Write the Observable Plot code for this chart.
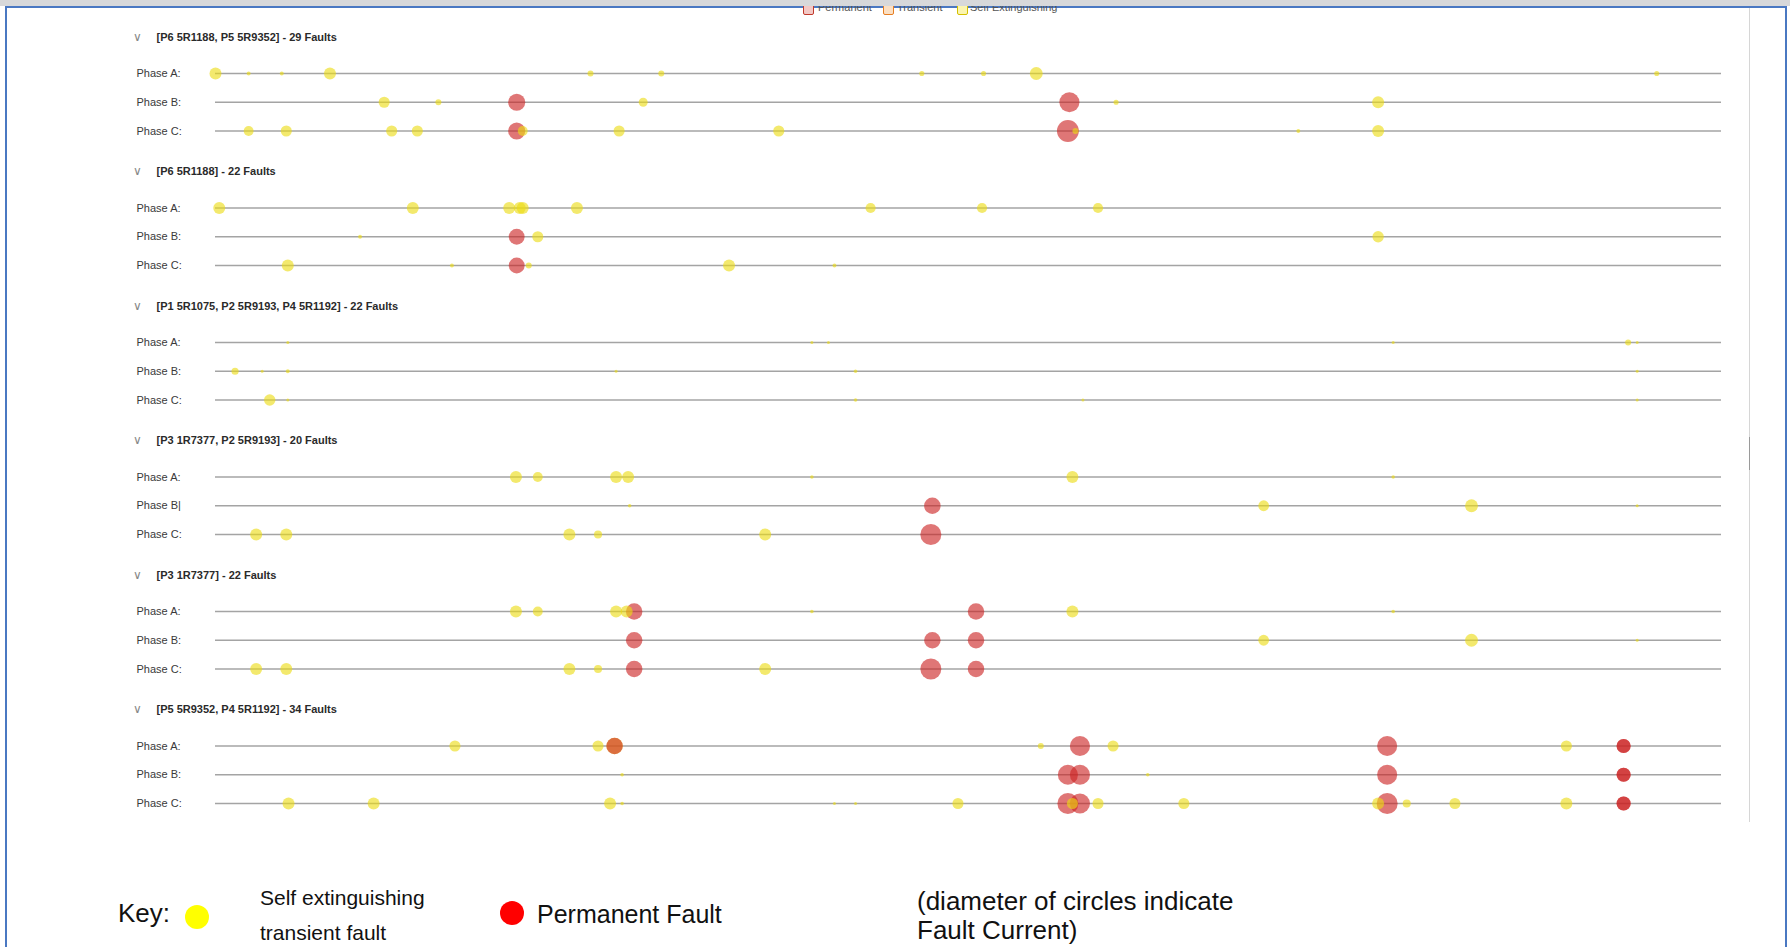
<!DOCTYPE html>
<html>
<head>
<meta charset="utf-8">
<script src="https://cdn.jsdelivr.net/npm/d3@7"></script>
<script src="https://cdn.jsdelivr.net/npm/@observablehq/plot@0.6"></script>
<style>
  html, body { margin: 0; padding: 0; background: #fff; }
  #page { position: relative; width: 1790px; height: 947px; overflow: hidden; background: #fff;
          font-family: "Liberation Sans", Arial, sans-serif; }
  .abs { position: absolute; }
  .tl { position: absolute; font-size: 11px; color: #555; line-height: 11px; white-space: nowrap; z-index: 2; }
  .cb { position: absolute; width: 9px; height: 9px; border: 1px solid; border-radius: 2px; z-index: 2; }
  .key { position: absolute; color: #111; white-space: nowrap; }
  .dotk { position: absolute; border-radius: 50%; }
</style>
</head>
<body>
<div id="page">
  <div class="abs" style="left:5px;top:6px;width:1782px;height:2px;background:#4a78c2;z-index:1"></div>
  <!-- partially hidden filter legend at the very top -->
  <div class="cb" style="left:803px;top:4px;border-color:#c0392b;background:#f3c9c6"></div>
  <div class="tl" style="left:818px;top:2px">Permanent</div>
  <div class="cb" style="left:883px;top:4px;border-color:#e67e22;background:#fbe0c4"></div>
  <div class="tl" style="left:897px;top:2px">Transient</div>
  <div class="cb" style="left:957px;top:4px;border-color:#d4c000;background:#fbf5b0"></div>
  <div class="tl" style="left:970px;top:2px">Self Extinguishing</div>
  <div class="abs" style="left:0;top:0;width:1790px;height:6px;background:#d7d8da;z-index:3"></div>

  <div class="abs" style="left:5px;top:6px;width:2px;height:941px;background:#4a78c2"></div>
  <div class="abs" style="left:1785px;top:6px;width:2px;height:941px;background:#4a78c2"></div>
  <div class="abs" style="left:1749px;top:8px;width:1px;height:814px;background:#d6d6d6"></div>
  <div class="abs" style="left:1749px;top:437px;width:1px;height:33px;background:#9a9a9a"></div>

  <div id="chart" class="abs" style="left:0;top:0"></div>

  <!-- key -->
  <div class="key" style="left:118px;top:898px;font-size:26px;line-height:30px">Key:</div>
  <div class="dotk" style="left:185px;top:905px;width:24px;height:24px;background:#ffff00"></div>
  <div class="key" style="left:260px;top:885px;font-size:21px;line-height:26px">Self extinguishing</div>
  <div class="key" style="left:260px;top:920px;font-size:21px;line-height:26px">transient fault</div>
  <div class="dotk" style="left:500px;top:901px;width:24px;height:24px;background:#ff0000"></div>
  <div class="key" style="left:537px;top:899px;font-size:25px;line-height:30px">Permanent Fault</div>
  <div class="key" style="left:917px;top:886px;font-size:26px;line-height:30px">(diameter of circles indicate</div>
  <div class="key" style="left:917px;top:915px;font-size:26px;line-height:30px">Fault Current)</div>
</div>

<script>
// ---------------- data ----------------
const groupNames = [
  "[P6 5R1188, P5 5R9352]",
  "[P6 5R1188]",
  "[P1 5R1075, P2 5R9193, P4 5R1192]",
  "[P3 1R7377, P2 5R9193]",
  "[P3 1R7377]",
  "[P5 5R9352, P4 5R1192]"
];
const faultCounts = [29, 22, 22, 20, 22, 34];
const phases = ["Phase A:", "Phase B:", "Phase C:"];
const kinds = ["Self extinguishing", "Permanent"];

// each fault: [phase, position along the monitored period (%), fault current (kA), kind S=self extinguishing / P=permanent]
const faults1 = [
  ["A", 0.0, 4.0, "S"], ["A", 2.2, 1.3, "S"], ["A", 4.4, 1.3, "S"], ["A", 7.6, 4.0, "S"],
  ["A", 24.9, 2.0, "S"], ["A", 29.6, 2.0, "S"], ["A", 46.9, 1.7, "S"], ["A", 51.0, 1.7, "S"],
  ["A", 54.5, 4.3, "S"], ["A", 95.7, 1.7, "S"],
  ["B", 11.2, 3.7, "S"], ["B", 14.8, 2.0, "S"], ["B", 20.0, 5.7, "P"], ["B", 28.4, 3.0, "S"],
  ["B", 56.7, 6.7, "P"], ["B", 59.8, 1.7, "S"], ["B", 77.2, 4.0, "S"],
  ["C", 2.2, 3.3, "S"], ["C", 4.7, 3.7, "S"], ["C", 11.7, 3.7, "S"], ["C", 13.4, 3.7, "S"],
  ["C", 20.0, 5.7, "P"], ["C", 20.4, 3.3, "S"], ["C", 26.8, 3.7, "S"], ["C", 37.4, 3.7, "S"],
  ["C", 56.6, 7.3, "P"], ["C", 57.1, 2.0, "S"], ["C", 71.9, 1.3, "S"], ["C", 77.2, 4.0, "S"]
];
const faults2 = [
  ["A", 0.25, 4.0, "S"], ["A", 13.1, 4.0, "S"], ["A", 19.5, 4.0, "S"], ["A", 20.2, 4.0, "S"],
  ["A", 20.4, 4.0, "S"], ["A", 24.0, 4.0, "S"], ["A", 43.5, 3.4, "S"], ["A", 50.9, 3.4, "S"],
  ["A", 58.6, 3.4, "S"],
  ["B", 9.6, 1.3, "S"], ["B", 20.0, 5.3, "P"], ["B", 21.4, 3.7, "S"], ["B", 77.2, 3.8, "S"],
  ["C", 4.8, 4.0, "S"], ["C", 15.7, 1.3, "S"], ["C", 20.0, 5.3, "P"], ["C", 20.8, 2.0, "S"],
  ["C", 34.1, 4.0, "S"], ["C", 41.1, 1.3, "S"]
];
const faults3 = [
  ["A", 4.8, 1.0, "S"], ["A", 39.6, 1.0, "S"], ["A", 40.7, 1.0, "S"], ["A", 78.2, 1.0, "S"],
  ["A", 93.8, 2.0, "S"], ["A", 94.4, 1.0, "S"],
  ["B", 1.3, 2.4, "S"], ["B", 3.1, 1.0, "S"], ["B", 4.8, 1.3, "S"], ["B", 26.6, 1.0, "S"],
  ["B", 42.5, 1.2, "S"], ["B", 94.4, 1.0, "S"],
  ["C", 3.6, 3.8, "S"], ["C", 4.8, 1.0, "S"], ["C", 42.5, 1.2, "S"], ["C", 57.6, 1.0, "S"],
  ["C", 94.4, 1.0, "S"]
];
const faults4 = [
  ["A", 19.95, 4.0, "S"], ["A", 21.4, 3.3, "S"], ["A", 26.6, 4.0, "S"], ["A", 27.4, 4.0, "S"],
  ["A", 39.6, 1.2, "S"], ["A", 56.9, 4.0, "S"], ["A", 78.2, 1.2, "S"],
  ["B", 27.5, 1.2, "S"], ["B", 47.6, 5.5, "P"], ["B", 69.6, 3.6, "S"], ["B", 83.4, 4.3, "S"],
  ["B", 94.4, 1.0, "S"],
  ["C", 2.7, 4.0, "S"], ["C", 4.7, 4.0, "S"], ["C", 23.5, 4.0, "S"], ["C", 25.4, 2.7, "S"],
  ["C", 36.5, 4.0, "S"], ["C", 47.5, 7.0, "P"]
];
const faults5 = [
  ["A", 19.95, 4.0, "S"], ["A", 21.4, 3.3, "S"], ["A", 26.6, 4.0, "S"], ["A", 27.3, 4.0, "S"],
  ["A", 27.8, 5.5, "P"], ["A", 39.6, 1.2, "S"], ["A", 50.5, 5.5, "P"], ["A", 56.9, 4.0, "S"],
  ["A", 78.2, 1.2, "S"],
  ["B", 27.8, 5.5, "P"], ["B", 47.6, 5.5, "P"], ["B", 50.5, 5.5, "P"], ["B", 69.6, 3.6, "S"],
  ["B", 83.4, 4.3, "S"], ["B", 94.4, 1.0, "S"],
  ["C", 2.7, 4.0, "S"], ["C", 4.7, 4.0, "S"], ["C", 23.5, 4.0, "S"], ["C", 25.4, 2.7, "S"],
  ["C", 27.8, 5.5, "P"], ["C", 36.5, 4.0, "S"], ["C", 47.5, 7.0, "P"], ["C", 50.5, 5.5, "P"]
];
const faults6 = [
  ["A", 15.9, 3.7, "S"], ["A", 25.4, 3.7, "S"], ["A", 26.5, 5.5, "S"], ["A", 26.5, 5.5, "P"],
  ["A", 54.8, 2.0, "S"], ["A", 57.4, 6.7, "P"], ["A", 59.6, 3.7, "S"], ["A", 77.8, 6.7, "P"],
  ["A", 89.7, 3.7, "S"], ["A", 93.5, 4.7, "P"], ["A", 93.5, 4.7, "P"],
  ["B", 27.0, 1.2, "S"], ["B", 56.6, 6.7, "P"], ["B", 57.4, 6.7, "P"], ["B", 61.9, 1.2, "S"],
  ["B", 77.8, 6.7, "P"], ["B", 93.5, 4.7, "P"], ["B", 93.5, 4.7, "P"],
  ["C", 4.85, 4.0, "S"], ["C", 10.5, 4.0, "S"], ["C", 26.2, 4.0, "S"], ["C", 27.0, 1.2, "S"],
  ["C", 41.1, 1.0, "S"], ["C", 42.5, 1.0, "S"], ["C", 49.3, 3.7, "S"], ["C", 56.6, 7.0, "P"],
  ["C", 56.9, 3.7, "S"], ["C", 57.4, 6.7, "P"], ["C", 58.6, 3.7, "S"], ["C", 64.3, 3.7, "S"],
  ["C", 77.2, 4.0, "S"], ["C", 77.8, 7.0, "P"], ["C", 79.1, 2.7, "S"], ["C", 82.3, 3.7, "S"],
  ["C", 89.7, 4.0, "S"], ["C", 93.5, 4.7, "P"], ["C", 93.5, 4.7, "P"]
];
const faultsByGroup = [faults1, faults2, faults3, faults4, faults5, faults6];

// ---------------- tables built from the arrays ----------------
const phaseOf = p => phases.find(s => s.startsWith("Phase " + p));
const faults = faultsByGroup.flatMap((arr, gi) =>
  arr.map(([p, t, kA, k]) => ({group: groupNames[gi], phase: phaseOf(p), t, kA, kind: k === "P" ? kinds[1] : kinds[0]})));
const groupRows = groupNames.map((g, i) => ({group: g, count: faultCounts[i]}));
const phaseRows = groupNames.flatMap((g, gi) => phases.map(p => ({
  group: g, phase: p,
  label: (gi === 3 && p === "Phase B:") ? "Phase B|" : p
})));

const chart = Plot.plot({
  width: 1790,
  height: 826,
  marginTop: 19,
  marginBottom: 0,
  marginLeft: 215,
  marginRight: 69,
  x: {domain: [0, 100], axis: null},
  y: {domain: phases, type: "point", padding: 0, round: false, insetTop: 54, insetBottom: 23, axis: null},
  fy: {domain: groupNames, padding: 0, round: false, axis: null},
  r: {type: "linear", domain: [0, 8], range: [0, 12]},
  color: {domain: kinds, range: ["#ecdc14", "#cc2222"]},
  style: {fontFamily: "'Liberation Sans', Arial, sans-serif", fontSize: "11px", background: "transparent", overflow: "visible"},
  marks: [
    Plot.ruleY(phaseRows, {fy: "group", y: "phase", stroke: "#a4a4a4", strokeWidth: 1.6}),
    Plot.text(phaseRows, {fy: "group", y: "phase", text: "label", frameAnchor: "left", textAnchor: "start", dx: -79, fill: "#3a3a3a"}),
    Plot.text(groupRows, {fy: "group", frameAnchor: "top-left", lineAnchor: "middle", text: () => "∨", textAnchor: "start", dx: -83, dy: 17.5, fill: "#888", fontSize: 12}),
    Plot.text(groupRows, {fy: "group", frameAnchor: "top-left", lineAnchor: "middle", text: d => `${d.group} - ${d.count} Faults`, textAnchor: "start", dx: -59, dy: 17.5, fontWeight: "bold", fill: "#2a2a2a"}),
    Plot.dot(faults, {fy: "group", x: "t", y: "phase", r: "kA", fill: "kind", fillOpacity: 0.62, stroke: "none"})
  ]
});
document.getElementById("chart").appendChild(chart);
</script>
</body>
</html>
